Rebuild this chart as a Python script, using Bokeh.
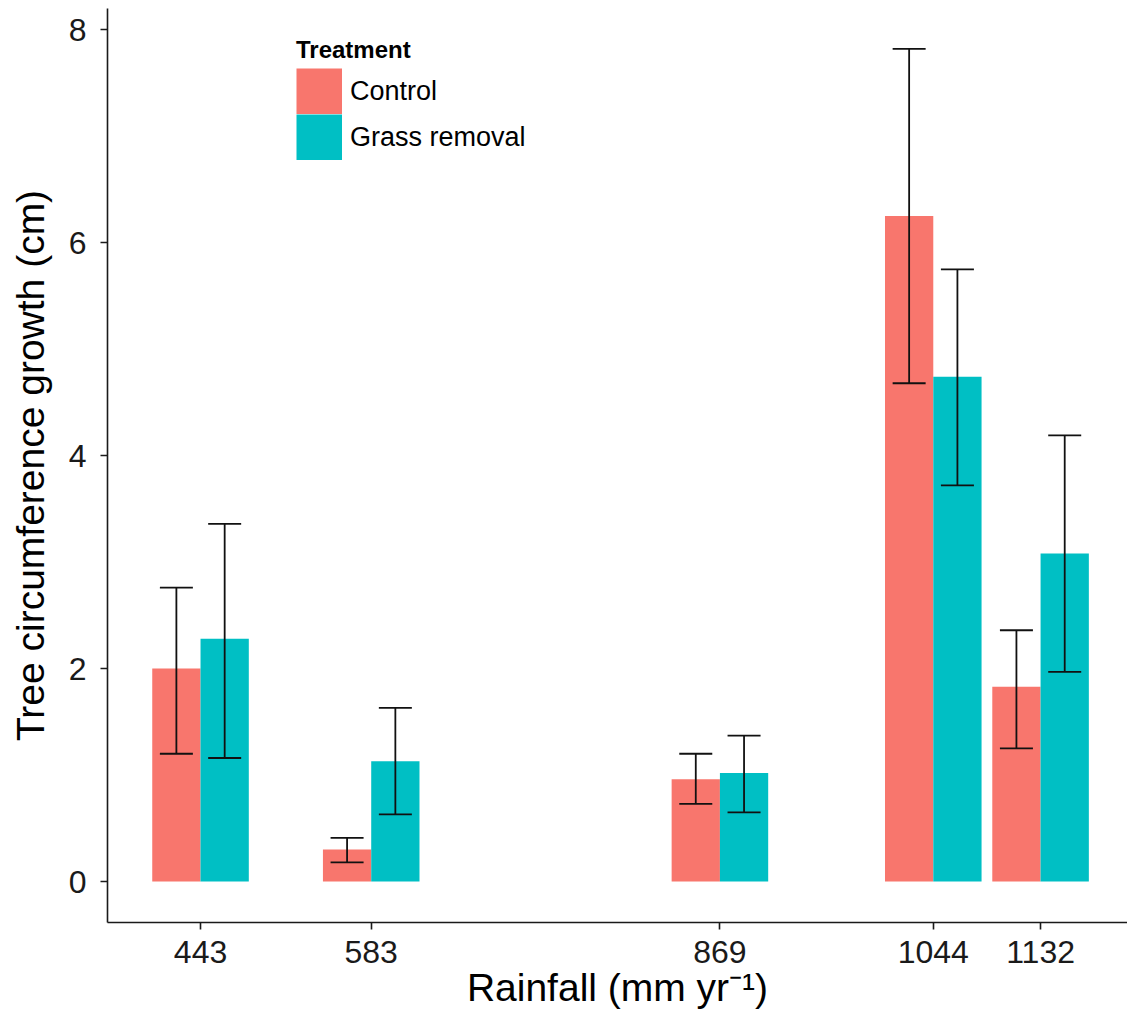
from bokeh.plotting import figure
from bokeh.models import (ColumnDataSource, Range1d, FixedTicker, Whisker,
                          TeeHead, Legend, LegendItem)
from bokeh.embed import file_html
from bokeh.resources import INLINE

# Mean tree circumference growth (cm) per site, with error-bar limits
rainfall = [443, 583, 869, 1044, 1132]
tick_labels = ["443", "583", "869", "1044", "1132"]
treatments = ["Control", "Grass removal"]

control_mean = [2.00, 0.30, 0.96, 6.25, 1.83]
control_upper = [2.76, 0.41, 1.20, 7.82, 2.36]
control_lower = [1.20, 0.18, 0.73, 4.68, 1.25]

grass_mean = [2.28, 1.13, 1.02, 4.74, 3.08]
grass_upper = [3.36, 1.63, 1.37, 5.75, 4.19]
grass_lower = [1.16, 0.63, 0.65, 3.72, 1.97]

colors = ["#F8766D", "#00BFC4"]
FONT = "Liberation Sans"
KEY = 46  # legend key size in px

# dodged bars: full group width is 0.9 of the smallest rainfall gap
gap = min(b - a for a, b in zip(rainfall[:-1], rainfall[1:]))
bar_w = 0.9 * gap / 2

p = figure(width=1127, height=1030, output_backend="svg", toolbar_location=None,
           x_range=Range1d(366.7, 1203.3), y_range=Range1d(-0.385, 8.2),
           min_border_left=107, min_border_right=0, min_border_top=8,
           min_border_bottom=108)
p.outline_line_color = None
p.xgrid.visible = False
p.ygrid.visible = False
p.background_fill_color = "white"
p.border_fill_color = "white"

key_renderers = []
for k, (mean, up, lo) in enumerate([(control_mean, control_upper, control_lower),
                                    (grass_mean, grass_upper, grass_lower)]):
    offset = (k - 0.5) * bar_w
    src = ColumnDataSource(dict(x=[r + offset for r in rainfall], top=mean,
                                upper=up, lower=lo))
    p.vbar(x="x", top="top", bottom=0, width=bar_w, source=src,
           fill_color=colors[k], line_color=None)
    w = Whisker(base="x", upper="upper", lower="lower", source=src,
                dimension="height", line_color="#111111", line_width=1.8,
                level="overlay",
                upper_head=TeeHead(size=33, line_color="#111111", line_width=1.8),
                lower_head=TeeHead(size=33, line_color="#111111", line_width=1.8))
    p.add_layout(w)
    # hidden thick line used only as a solid square legend key
    key_renderers.append(p.line(x="x", y="top", source=src, line_color=colors[k],
                                line_width=KEY, line_cap="butt", visible=False))

# axes
p.xaxis.ticker = FixedTicker(ticks=rainfall)
p.xaxis.major_label_overrides = {r: t for r, t in zip(rainfall, tick_labels)}
p.yaxis.ticker = FixedTicker(ticks=[0, 2, 4, 6, 8])
for ax in (p.xaxis, p.yaxis):
    ax.axis_line_color = "#1a1a1a"
    ax.axis_line_width = 1.6
    ax.major_tick_line_color = "#1a1a1a"
    ax.major_tick_line_width = 1.6
    ax.major_tick_in = 0
    ax.major_tick_out = 7
    ax.minor_tick_line_color = None
    ax.major_label_text_font = FONT
    ax.major_label_text_font_size = "32px"
    ax.major_label_text_color = "#1a1a1a"
    ax.axis_label_text_font = FONT
    ax.axis_label_text_font_size = "39px"
    ax.axis_label_text_font_style = "normal"
    ax.axis_label_text_color = "black"

p.xaxis.axis_label = "Rainfall (mm yr⁻¹)"
p.yaxis.axis_label = "Tree circumference growth (cm)"
p.xaxis.major_label_standoff = 11
p.yaxis.major_label_standoff = 14
p.xaxis.axis_label_standoff = 0
p.yaxis.axis_label_standoff = 14

legend = Legend(items=[LegendItem(label=treatments[i], renderers=[key_renderers[i]])
                       for i in range(2)],
                location=(189, 762), title="Treatment",
                title_text_font=FONT, title_text_font_size="24px",
                title_text_font_style="bold", title_text_color="black",
                title_standoff=4,
                label_text_font=FONT, label_text_font_size="27px",
                label_text_color="black",
                label_standoff=8, glyph_width=KEY, glyph_height=KEY,
                label_height=KEY, spacing=0, padding=0, margin=0,
                border_line_color=None, background_fill_alpha=0)
p.add_layout(legend, "center")

open("out.html", "w").write(file_html(p, INLINE))
